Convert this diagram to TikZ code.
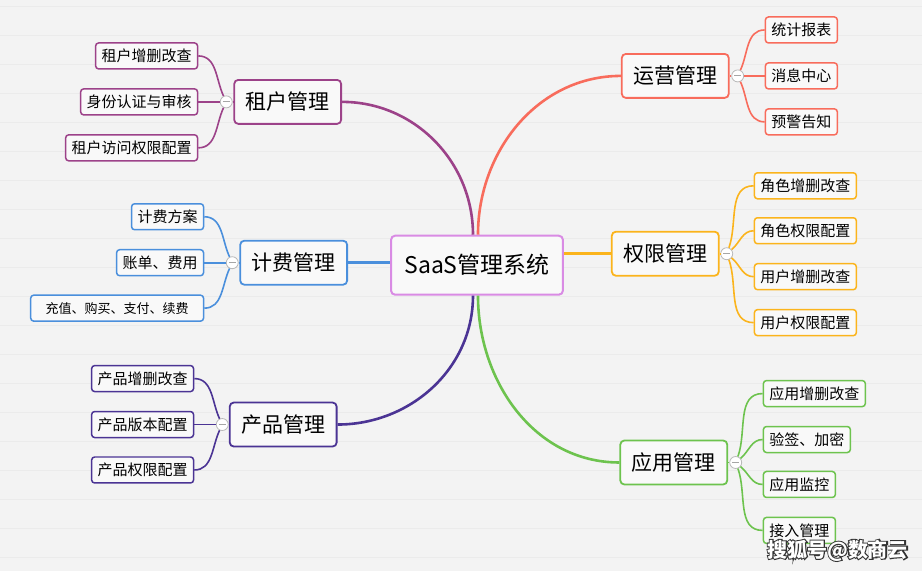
\documentclass[tikz,border=0pt]{standalone}
\usepackage{fontspec}
\setmainfont{Noto Sans CJK SC}
\newfontfamily\markfont{Noto Sans CJK SC}[FakeBold=10]
\usepackage{xcolor}
\usepackage{tikz}
\usetikzlibrary{positioning}

\definecolor{bgc}{HTML}{F3F3F3}
\definecolor{linec}{HTML}{EBEBEB}
\definecolor{boxc}{HTML}{F9F9F9}
\definecolor{hubc}{HTML}{D98BE4}
\definecolor{tenc}{HTML}{9C4289}
\definecolor{billc}{HTML}{4A8FDC}
\definecolor{prodc}{HTML}{4B3494}
\definecolor{opsc}{HTML}{F86C5C}
\definecolor{permc}{HTML}{FBB41C}
\definecolor{appc}{HTML}{6DC34E}

\begin{document}
\begin{tikzpicture}[x=1pt,y=1pt,
    hub/.style={draw=hubc,line width=2pt,rounded corners=4pt,fill=boxc,minimum width=172pt,minimum height=59pt,font=\fontsize{23}{26}\selectfont},
    topic/.style={draw=#1,line width=1.8pt,rounded corners=4pt,fill=boxc,minimum width=107pt,minimum height=44pt,font=\fontsize{21}{24}\selectfont},
    leaf/.style={draw=#1,line width=1.5pt,rounded corners=3pt,fill=boxc,minimum height=26pt,inner xsep=6pt,inner ysep=0pt,font=\fontsize{15}{18}\selectfont},
    tog/.style={circle,draw=gray!55,line width=0.8pt,fill=white,minimum size=12pt,inner sep=0pt,
        path picture={\draw[gray!70,line width=1pt] ([xshift=-3.5pt]path picture bounding box.center) -- ([xshift=3.5pt]path picture bounding box.center);}},
    trunk/.style={draw=#1,line width=2.6pt},
    twig/.style={draw=#1,line width=1.6pt}]

    % background
    \fill[bgc] (0,0) rectangle (922,572);
    \foreach \y in {14,43,...,572} {
        \draw[linec,line width=1pt] (0,\y) -- (922,\y);
    }
    \useasboundingbox (0,0) rectangle (922,572);

    % centre
    \node[hub] (hub) at (477,306.5) {SaaS管理系统};

    % left branches
    \node[topic=tenc] (ten) at (287.5,470) {租户管理};
    \node[tog] (tentog) at (226,470) {};
    \node[leaf=tenc,anchor=east] (ten1) at (198,516) {租户增删改查};
    \node[leaf=tenc,anchor=east] (ten2) at (198,470) {身份认证与审核};
    \node[leaf=tenc,anchor=east] (ten3) at (198,424) {租户访问权限配置};

    \node[topic=billc] (bill) at (293.5,309) {计费管理};
    \node[tog] (billtog) at (232,309) {};
    \node[leaf=billc,anchor=east] (bill1) at (204,355) {计费方案};
    \node[leaf=billc,anchor=east] (bill2) at (204,309) {账单、费用};
    \node[leaf=billc,anchor=east,minimum width=173pt,font=\fontsize{13}{16}\selectfont] (bill3) at (204,263.5) {充值、购买、支付、续费};

    \node[topic=prodc] (prod) at (283,147) {产品管理};
    \node[tog] (prodtog) at (222,147) {};
    \node[leaf=prodc,anchor=east] (prod1) at (194,193) {产品增删改查};
    \node[leaf=prodc,anchor=east] (prod2) at (194,147) {产品版本配置};
    \node[leaf=prodc,anchor=east] (prod3) at (194,101.5) {产品权限配置};

    % right branches
    \node[topic=opsc] (ops) at (675.5,496) {运营管理};
    \node[tog] (opstog) at (738,496) {};
    \node[leaf=opsc,anchor=west] (ops1) at (765,542) {统计报表};
    \node[leaf=opsc,anchor=west] (ops2) at (765,496) {消息中心};
    \node[leaf=opsc,anchor=west] (ops3) at (765,450) {预警告知};

    \node[topic=permc] (perm) at (665.5,318) {权限管理};
    \node[tog] (permtog) at (727,318) {};
    \node[leaf=permc,anchor=west] (perm1) at (754,386) {角色增删改查};
    \node[leaf=permc,anchor=west] (perm2) at (754,341) {角色权限配置};
    \node[leaf=permc,anchor=west] (perm3) at (754,295) {用户增删改查};
    \node[leaf=permc,anchor=west] (perm4) at (754,249) {用户权限配置};

    \node[topic=appc] (app) at (674,109) {应用管理};
    \node[tog] (apptog) at (736,109) {};
    \node[leaf=appc,anchor=west] (app1) at (763,178) {应用增删改查};
    \node[leaf=appc,anchor=west] (app2) at (763,132) {验签、加密};
    \node[leaf=appc,anchor=west] (app3) at (763,87) {应用监控};
    \node[leaf=appc,anchor=west] (app4) at (763,41) {接入管理};

    % trunks
    \draw[trunk=tenc] (ten.east) to[out=0,in=90] ([xshift=-4pt]hub.north);
    \draw[trunk=opsc] (ops.west) to[out=180,in=90] ([xshift=1pt]hub.north);
    \draw[trunk=billc] (bill.east) -- (bill.east -| hub.west);
    \draw[trunk=permc] (perm.west) -- (perm.west -| hub.east);
    \draw[trunk=prodc] (prod.east) to[out=0,in=-90] ([xshift=-4pt]hub.south);
    \draw[trunk=appc] (app.west) to[out=180,in=-90] ([xshift=1pt]hub.south);

    % twigs
    \draw[twig=tenc] (tentog) -- (ten.west);
    \draw[twig=tenc] (tentog) to[out=115,in=0] (ten1.east);
    \draw[twig=tenc] (tentog) -- (ten2.east);
    \draw[twig=tenc] (tentog) to[out=245,in=0] (ten3.east);

    \draw[twig=billc] (billtog) -- (bill.west);
    \draw[twig=billc] (billtog) to[out=115,in=0] (bill1.east);
    \draw[twig=billc] (billtog) -- (bill2.east);
    \draw[twig=billc] (billtog) to[out=245,in=0] (bill3.east);

    \draw[twig=prodc] (prodtog) -- (prod.west);
    \draw[twig=prodc] (prodtog) to[out=115,in=0] (prod1.east);
    \draw[twig=prodc] (prodtog) -- (prod2.east);
    \draw[twig=prodc] (prodtog) to[out=245,in=0] (prod3.east);

    \draw[twig=opsc] (opstog) -- (ops.east);
    \draw[twig=opsc] (opstog) to[out=65,in=180] (ops1.west);
    \draw[twig=opsc] (opstog) -- (ops2.west);
    \draw[twig=opsc] (opstog) to[out=-65,in=180] (ops3.west);

    \draw[twig=permc] (permtog) -- (perm.east);
    \foreach \k/\a in {1/70,2/40,3/-40,4/-70} {
        \draw[twig=permc] (permtog) to[out=\a,in=180] (perm\k.west);
    }

    \draw[twig=appc] (apptog) -- (app.east);
    \foreach \k/\a in {1/70,2/40,3/-40,4/-70} {
        \draw[twig=appc] (apptog) to[out=\a,in=180] (app\k.west);
    }

    % corner mark: dark thick copy below, white text on top
    \node[font=\fontsize{20}{22}\markfont\bfseries,text=black!80] (markbg) at (838,21) {搜狐号@数商云};
    \node[font=\fontsize{20}{22}\selectfont\bfseries,text=white] (mark) at (markbg.center) {搜狐号@数商云};
\end{tikzpicture}
\end{document}
